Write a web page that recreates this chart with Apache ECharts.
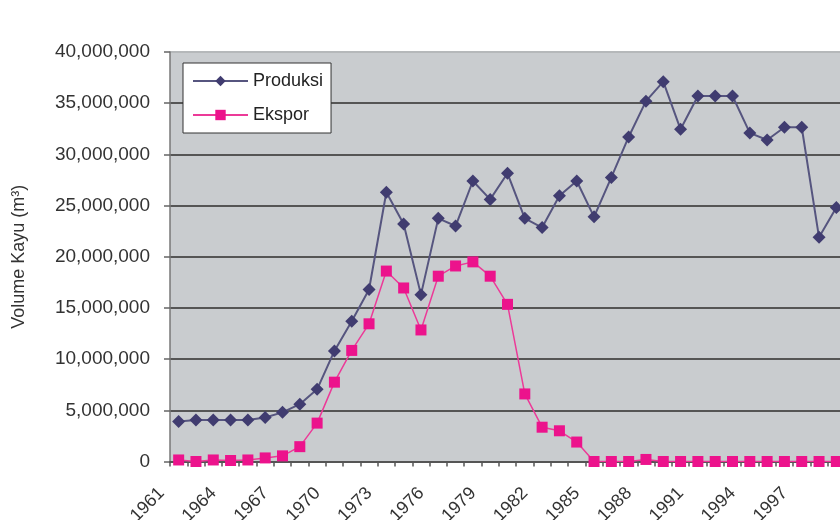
<!DOCTYPE html>
<html>
<head>
<meta charset="utf-8">
<script src="https://cdn.jsdelivr.net/npm/echarts@6/dist/echarts.min.js"></script>
<style>
html,body{margin:0;padding:0;background:#fff;}
#chart{width:840px;height:520px;}
</style>
</head>
<body>
<div id="chart"></div>
<script>
var years = ['1961','1962','1963','1964','1965','1966','1967','1968','1969','1970',
  '1971','1972','1973','1974','1975','1976','1977','1978','1979','1980',
  '1981','1982','1983','1984','1985','1986','1987','1988','1989','1990',
  '1991','1992','1993','1994','1995','1996','1997','1998','1999'];
var produksi = [3900000,4050000,4050000,4050000,4050000,4300000,4800000,5600000,7050000,10800000,
  13700000,16800000,26300000,23200000,16300000,23750000,23000000,27400000,25600000,28150000,
  23750000,22850000,25950000,27400000,23900000,27750000,31700000,35200000,37100000,32450000,
  35700000,35700000,35700000,32100000,31400000,32650000,32650000,21900000,24800000];
var ekspor = [150000,0,150000,100000,150000,350000,550000,1450000,3750000,7750000,
  10850000,13450000,18600000,16950000,12850000,18100000,19100000,19500000,18100000,15350000,
  6600000,3350000,3000000,1900000,0,0,0,200000,0,0,
  0,0,0,0,0,0,0,0,0];
var seriesNames = ['Produksi','Ekspor'];
var yTitle = 'Volume Kayu (m\u00b3)';

var FONT = 'Liberation Sans';
var chart = echarts.init(document.getElementById('chart'), null, {renderer:'canvas'});
chart.setOption({
  animation:false,
  backgroundColor:'#ffffff',
  grid:{left:170, top:52, bottom:58.5, right:-5, show:true, backgroundColor:'#c9cccf', borderWidth:0,
    containLabel:false, outerBoundsMode:'none'},
  legend:{
    orient:'vertical', left:183, top:63,
    data:seriesNames,
    backgroundColor:'#ffffff', borderColor:'#333333', borderWidth:1,
    padding:[9,8,9,9], itemGap:16, itemWidth:55, itemHeight:13, itemTextGap:0,
    textStyle:{fontFamily:FONT, fontSize:18, color:'#222'}
  },
  xAxis:{
    type:'category', data:years, boundaryGap:true,
    axisLine:{lineStyle:{color:'#555', width:2}},
    axisTick:{show:true, interval:0, length:5, lineStyle:{color:'#555', width:1.5}},
    axisLabel:{interval:2, rotate:45, margin:12, padding:[0,24,0,0], fontFamily:FONT, fontSize:18, color:'#333'}
  },
  yAxis:{
    type:'value', min:0, max:40000000, interval:5000000,
    name:yTitle, nameLocation:'middle', nameGap:142,
    nameTextStyle:{fontFamily:FONT, fontSize:18, color:'#333'},
    axisLine:{show:true, lineStyle:{color:'#777', width:1.5}},
    axisTick:{show:true, length:6, lineStyle:{color:'#666', width:1.5}},
    axisLabel:{margin:20, fontFamily:FONT, fontSize:19, color:'#333',
      formatter:function(v){return v.toLocaleString('en-US');}},
    splitLine:{show:true, lineStyle:{color:['#555','#555','#555','#555','#555','#555','#555','#555','#b5b8ba'], width:2}}
  },
  series:[
    {name:seriesNames[0], type:'line', data:produksi, symbol:'diamond', symbolSize:13, showAllSymbol:true,
      lineStyle:{color:'#56557f', width:2}, itemStyle:{color:'#403c70'}, z:3},
    {name:seriesNames[1], type:'line', data:ekspor, symbol:'rect', symbolSize:11, showAllSymbol:true,
      lineStyle:{color:'#ec3a98', width:1.5}, itemStyle:{color:'#ec138c'}, z:4}
  ]
});
</script>
</body>
</html>
